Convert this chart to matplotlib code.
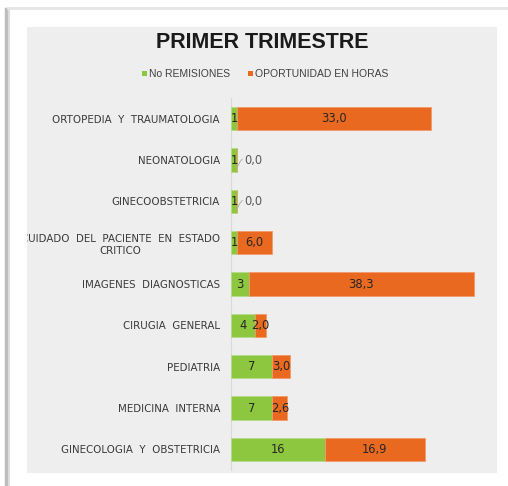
import matplotlib
matplotlib.use("Agg")
import matplotlib.pyplot as plt
from matplotlib.patches import Rectangle
from matplotlib.lines import Line2D

categories = ["ORTOPEDIA  Y  TRAUMATOLOGIA", "NEONATOLOGIA", "GINECOOBSTETRICIA",
              "CUIDADO  DEL  PACIENTE  EN  ESTADO\nCRITICO", "IMAGENES  DIAGNOSTICAS",
              "CIRUGIA  GENERAL", "PEDIATRIA", "MEDICINA  INTERNA",
              "GINECOLOGIA  Y  OBSTETRICIA"]
remisiones = [1, 1, 1, 1, 3, 4, 7, 7, 16]
oportunidad = [33.0, 0.0, 0.0, 6.0, 38.3, 2.0, 3.0, 2.6, 16.9]
series_names = ["No REMISIONES", "OPORTUNIDAD EN HORAS"]
title = "PRIMER TRIMESTRE"

GREEN = "#8DC63F"
ORANGE = "#E8691F"
W, H = 508, 486

fig = plt.figure(figsize=(W / 100, H / 100), dpi=100)
fig.patch.set_facecolor("white")

# frame shadow
fig.add_artist(Line2D([6 / W, 6 / W], [0, 1 - 9 / H], color="#bdbdbd", lw=2.5))
fig.add_artist(Line2D([8.5 / W, 8.5 / W], [0, 1 - 9 / H], color="#dedede", lw=1.5))
fig.add_artist(Line2D([8 / W, 1], [1 - 8 / H, 1 - 8 / H], color="#e6e6e6", lw=2))

# chart panel
panel = Rectangle((27 / W, 1 - 473 / H), (497 - 27) / W, (473 - 27) / H,
                  transform=fig.transFigure, facecolor="#EEEEEE", edgecolor="none", zorder=0)
fig.add_artist(panel)

x0, x1 = 231, 497
y_top, y_bot = 98, 470
ax = fig.add_axes([x0 / W, 1 - y_bot / H, (x1 - x0) / W, (y_bot - y_top) / H])
ax.set_facecolor("none")
scale = (474 - 231) / (3 + 38.3)
ax.set_xlim(0, (x1 - x0) / scale)
n = len(categories)
ax.set_ylim(n - 0.5, -0.5)

ypos = list(range(n))
bh = 0.56
ax.barh(ypos, remisiones, height=bh, color=GREEN, edgecolor="#b5dc8a", linewidth=0.6, zorder=3)
ax.barh(ypos, oportunidad, left=remisiones, height=bh, color=ORANGE, edgecolor="#f29a68",
        linewidth=0.6, zorder=3)

lab_font = dict(family="DejaVu Sans", fontsize=8.3, color="#262626", zorder=5)
for i in range(n):
    r, o = remisiones[i], oportunidad[i]
    ax.text(r / 2, i, f"{r}", ha="center", va="center", **lab_font)
    s = f"{o:.1f}".replace(".", ",")
    if o == 0:
        ax.plot([r + 0.05, r + 0.5, r + 0.9], [i + 0.18, i + 0.05, -0.02 + i],
                color="#b0b0b0", lw=0.7, zorder=4)
        ax.text(r + 1.2, i, s, ha="left", va="center", family="DejaVu Sans",
                fontsize=8.3, color="#595959", zorder=5)
    else:
        ax.text(r + o / 2, i, s, ha="center", va="center", **lab_font)

ax.set_yticks(ypos)
ax.set_yticklabels(categories, fontsize=7.4, color="#3a3a3a", family="DejaVu Sans",
                   multialignment="center", linespacing=1.35)
ax.tick_params(axis="y", length=0, pad=8)
ax.set_xticks([])
for sp in ["top", "right", "bottom"]:
    ax.spines[sp].set_visible(False)
ax.spines["left"].set_color("#d9d9d9")
ax.spines["left"].set_linewidth(0.8)
for t in ax.get_yticklabels():
    t.set_clip_on(True)
    t.set_clip_path(panel)

fig.text(262 / W, 1 - 42 / H, title, ha="center", va="center", fontsize=15.5,
         fontweight="bold", color="#1a1a1a", family="Liberation Sans")

# legend
ly = 1 - 74 / H
fig.add_artist(Rectangle((142 / W, ly - 2.5 / H), 5 / W, 5 / H, transform=fig.transFigure,
                         facecolor=GREEN, edgecolor="none"))
fig.text(149 / W, ly, series_names[0], ha="left", va="center", fontsize=7.5,
         color="#404040", family="Liberation Sans")
fig.add_artist(Rectangle((248 / W, ly - 2.5 / H), 5 / W, 5 / H, transform=fig.transFigure,
                         facecolor=ORANGE, edgecolor="none"))
fig.text(255 / W, ly, series_names[1], ha="left", va="center", fontsize=7.5,
         color="#404040", family="Liberation Sans")

fig.savefig("out.png", dpi=100)
